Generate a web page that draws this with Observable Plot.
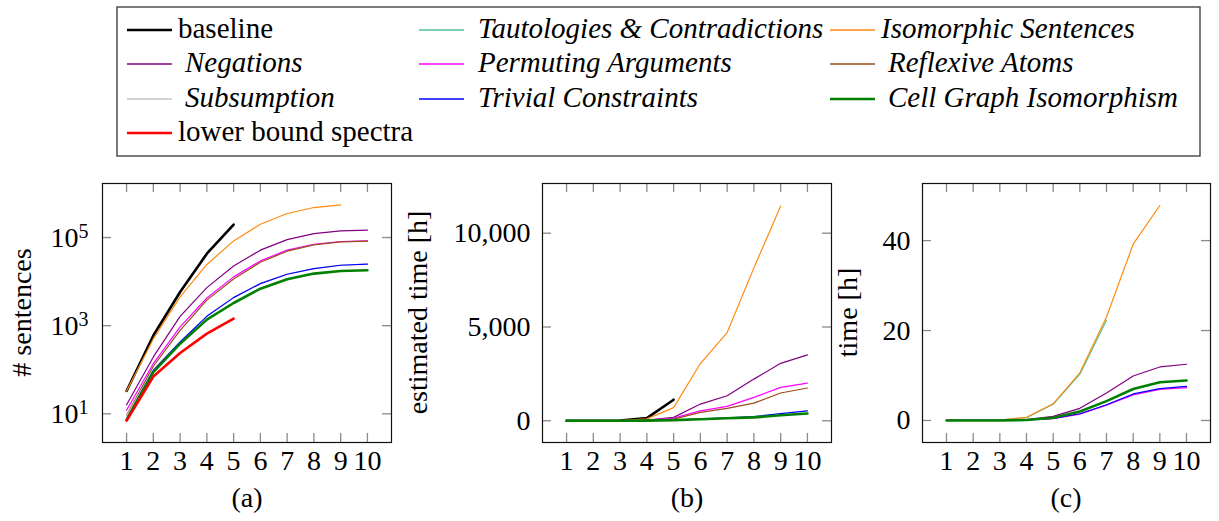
<!DOCTYPE html>
<html><head><meta charset="utf-8">
<script src="https://cdn.jsdelivr.net/npm/d3@7"></script>
<script src="https://cdn.jsdelivr.net/npm/@observablehq/plot@0.6"></script>
<style>
body{margin:0;background:#fff}
#root{position:relative;width:1219px;height:521px;overflow:hidden;background:#fff;font-family:"Liberation Serif",serif;color:#000}
#root > svg{position:absolute;top:0}
</style></head><body><div id="root"></div>
<script>
// ---------- data ----------
const xValues = [1, 2, 3, 4, 5, 6, 7, 8, 9, 10];
const seriesNames = ["baseline", "Tautologies & Contradictions", "Isomorphic Sentences",
  "Negations", "Permuting Arguments", "Reflexive Atoms",
  "Subsumption", "Trivial Constraints", "Cell Graph Isomorphism",
  "lower bound spectra"];
const seriesColors = ["#000000", "#4cc296", "#ff8a10", "#800080", "#ff00ff", "#994d1a",
  "#c4c4c4", "#0000ff", "#008000", "#ff0000"];
const thickSeries = ["baseline", "Cell Graph Isomorphism", "lower bound spectra"];
const italicSeries = ["Tautologies & Contradictions", "Isomorphic Sentences", "Negations",
  "Permuting Arguments", "Reflexive Atoms", "Subsumption", "Trivial Constraints",
  "Cell Graph Isomorphism"];

// (a) # sentences
const countBaseline    = [33, 600, 5800, 43000, 197000];
const countIsomorphic  = [33, 500, 4500, 24500, 84000, 200000, 351000, 480000, 550000];
const countNegations   = [16, 195, 1630, 7300, 22700, 51700, 90000, 123000, 142000, 147000];
const countPermuting   = [12, 138, 935, 4250, 12800, 29500, 51700, 70500, 81000, 84000];
const countReflexive   = [9.2, 120, 780, 3800, 11500, 27500, 49000, 68000, 79700, 82600];
const countSubsumption = [9, 100, 430, 1650, 4400, 9100, 14800, 19800, 23600, 25100];
const countTrivial     = [7.7, 97, 427, 1630, 4330, 9000, 14700, 19700, 23500, 25000];
const countCellGraph   = [7.3, 88, 390, 1370, 3270, 6900, 11300, 15200, 17400, 18100];
const countLowerBound  = [7, 70, 240, 660, 1440];
const countTicks = [10, 1000, 100000];

// (b) estimated time [h]
const estBaseline   = [0, 0, 5, 140, 1120];
const estIsomorphic = [0, 0, 5, 100, 700, 3050, 4700, 8150, 11450];
const estNegations  = [0, 0, 2, 40, 180, 890, 1335, 2220, 3060, 3510];
const estPermuting  = [0, 0, 1, 25, 140, 530, 765, 1245, 1780, 2010];
const estReflexive  = [0, 0, 1, 20, 90, 445, 660, 940, 1480, 1745];
const estTrivial    = [0, 0, 0, 10, 40, 100, 150, 220, 380, 530];
const estCellGraph  = [0, 0, 0, 8, 35, 80, 130, 180, 290, 390];
const estTicks = [0, 5000, 10000];

// (c) time [h]
const timeTautologies = [0, 0, 0.1, 0.6, 3.6, 10.3, 22.3];
const timeIsomorphic  = [0, 0, 0.1, 0.7, 3.7, 10.6, 23, 39.2, 47.8];
const timeNegations   = [0, 0, 0, 0.2, 0.9, 2.7, 6.1, 9.9, 11.9, 12.5];
const timePermuting   = [0, 0, 0, 0.1, 0.4, 1.4, 3.4, 5.7, 6.9, 7.3];
const timeTrivial     = [0, 0, 0, 0.1, 0.45, 1.5, 3.5, 5.9, 7.1, 7.6];
const timeCellGraph   = [0, 0, 0, 0.1, 0.6, 2.0, 4.3, 7.0, 8.5, 8.9];
const timeTicks = [0, 20, 40];

// ---------- helpers ----------
const root = document.getElementById("root");
const FONT = '"Liberation Serif", serif';
const colorOf = n => seriesColors[seriesNames.indexOf(n)];
const widthOf = n => thickSeries.includes(n) ? 2.6 : 1.2;
const rowsOf = (name, values) => values.map((v, i) => ({series: name, x: xValues[i], y: v}));

function panel({left, width, marginLeft, yScale, yTicks, yFormat, yPad, series}) {
  const marginRight = 9, marginTop = 13, marginBottom = 79, height = 351;
  const frameW = width - marginLeft - marginRight;
  const frameH = height - marginTop - marginBottom;
  const lineMarks = series.map(([name, values]) =>
    Plot.line(rowsOf(name, values), {x: "x", y: "y", stroke: colorOf(name),
      strokeWidth: widthOf(name), strokeLinejoin: "round"}));
  const tickStyle = {stroke: "#8a8a8a", strokeWidth: 1.3};
  const svg = Plot.plot({
    width, height, marginLeft, marginRight, marginTop, marginBottom,
    style: {background: "transparent", overflow: "visible", fontFamily: FONT, color: "#000"},
    x: {domain: [0.1, 10.9]},
    y: yScale,
    marks: [
      Plot.ruleX(xValues, {x: d => d, ...tickStyle, insetTop: frameH - 9}),
      Plot.ruleX(xValues, {x: d => d, ...tickStyle, insetBottom: frameH - 9}),
      Plot.ruleY(yTicks, {y: d => d, ...tickStyle, insetRight: frameW - 9}),
      Plot.ruleY(yTicks, {y: d => d, ...tickStyle, insetLeft: frameW - 9}),
      ...lineMarks,
      Plot.axisX({ticks: xValues, tickSize: 0, tickPadding: 8, fontSize: 28, label: null, tickFormat: d => String(d)}),
      Plot.axisY({ticks: yTicks, tickSize: 0, tickPadding: yPad, fontSize: 28, label: null, tickFormat: yFormat}),
      Plot.frame({stroke: "#111", strokeWidth: 1.2})
    ]
  });
  svg.style.left = left + "px";
  svg.style.top = "170px";
  // superscripts for 10^k labels
  svg.querySelectorAll("text").forEach(t => {
    const m = /^10\^(\d+)$/.exec(t.textContent);
    if (m) {
      t.textContent = "";
      const a = document.createElementNS("http://www.w3.org/2000/svg", "tspan");
      a.textContent = "10";
      const b = document.createElementNS("http://www.w3.org/2000/svg", "tspan");
      b.textContent = m[1];
      b.setAttribute("dy", "-0.42em");
      b.setAttribute("font-size", "20");
      t.appendChild(a); t.appendChild(b);
    }
  });
  root.appendChild(svg);
}

// (a)
panel({
  left: 0, width: 400, marginLeft: 102,
  yScale: {type: "log", domain: [2.23, 1.686e6]},
  yTicks: countTicks, yPad: 14,
  yFormat: d => "10^" + Math.round(Math.log10(d)),
  series: [["baseline", countBaseline], ["Isomorphic Sentences", countIsomorphic],
    ["Negations", countNegations], ["Permuting Arguments", countPermuting],
    ["Reflexive Atoms", countReflexive], ["Subsumption", countSubsumption],
    ["Trivial Constraints", countTrivial], ["Cell Graph Isomorphism", countCellGraph],
    ["lower bound spectra", countLowerBound]]
});
// (b)
panel({
  left: 400, width: 440, marginLeft: 142,
  yScale: {type: "linear", domain: [-1160, 12650]},
  yTicks: estTicks, yPad: 12, yFormat: d3.format(","),
  series: [["baseline", estBaseline], ["Isomorphic Sentences", estIsomorphic],
    ["Negations", estNegations], ["Permuting Arguments", estPermuting],
    ["Reflexive Atoms", estReflexive], ["Trivial Constraints", estTrivial],
    ["Cell Graph Isomorphism", estCellGraph]]
});
// (c)
panel({
  left: 840, width: 379, marginLeft: 82,
  yScale: {type: "linear", domain: [-4.9, 52.7]},
  yTicks: timeTicks, yPad: 12, yFormat: d => String(d),
  series: [["Tautologies & Contradictions", timeTautologies], ["Isomorphic Sentences", timeIsomorphic],
    ["Negations", timeNegations], ["Permuting Arguments", timePermuting],
    ["Trivial Constraints", timeTrivial], ["Cell Graph Isomorphism", timeCellGraph]]
});

// ---------- overlay: legend, axis titles, captions ----------
const ov = d3.select(root).append("svg")
  .attr("width", 1219).attr("height", 521)
  .style("left", "0px").style("pointer-events", "none")
  .style("font-family", FONT).attr("font-size", 29);

ov.append("rect").attr("x", 117).attr("y", 7).attr("width", 1083).attr("height", 149)
  .attr("fill", "none").attr("stroke", "#444").attr("stroke-width", 1.4);

const colLineX = [127, 419, 830];
const colTextX = [178, 478, 881];
const rowBase = [37.5, 72, 106.5, 141];
seriesNames.forEach((name, i) => {
  const col = i % 3, row = Math.floor(i / 3);
  const italic = italicSeries.includes(name);
  const pad = italic && col !== 1 && row > 0 ? 7 : 0;
  const ly = Math.round(rowBase[row] - 8);
  ov.append("line").attr("x1", colLineX[col]).attr("x2", colLineX[col] + 45)
    .attr("y1", ly).attr("y2", ly)
    .attr("stroke", seriesColors[i]).attr("stroke-width", thickSeries.includes(name) ? 2.6 : 1.5);
  ov.append("text").attr("x", colTextX[col] + pad).attr("y", rowBase[row])
    .attr("font-style", italic ? "italic" : "normal").text(name);
});

const axisTitles = [["# sentences", 31], ["estimated time [h]", 427], ["time [h]", 857]];
axisTitles.forEach(([t, x]) => {
  ov.append("text").attr("transform", `translate(${x},312.5) rotate(-90)`)
    .attr("text-anchor", "middle").attr("font-size", 28).text(t);
});
const captions = [["(a)", 247], ["(b)", 687], ["(c)", 1066]];
captions.forEach(([t, x]) => {
  ov.append("text").attr("x", x).attr("y", 507).attr("text-anchor", "middle")
    .attr("font-size", 28).text(t);
});
</script></body></html>
